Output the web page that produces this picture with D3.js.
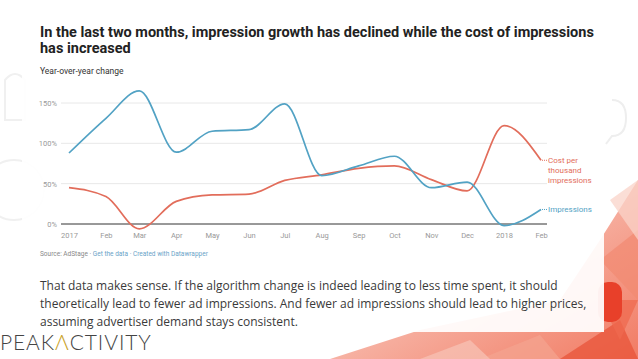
<!DOCTYPE html>
<html><head><meta charset="utf-8">
<script src="https://cdn.jsdelivr.net/npm/d3@7"></script>
<style>
html,body{margin:0;padding:0;background:#fff;}
svg{display:block;}
</style></head>
<body>
<svg id="c" width="638" height="359"></svg>
<script>
// ---- data ----
const months = ["2017-01","2017-02","2017-03","2017-04","2017-05","2017-06","2017-07","2017-08","2017-09","2017-10","2017-11","2017-12","2018-01","2018-02"];
const impressions = [88, 131, 165, 89, 115, 117, 149, 60, 72, 84, 45, 52, -2, 18];
const cpm = [45, 34, -6, 28, 36, 37, 54, 61, 69, 72, 55, 41, 122, 79];
const yTicks = [0, 50, 100, 150];
const xTickLabels = ["2017","Feb","Mar","Apr","May","Jun","Jul","Aug","Sep","Oct","Nov","Dec","2018","Feb"];
const titleLines = ["In the last two months, impression growth has declined while the cost of impressions","has increased"];
const paragraph = ["That data makes sense. If the algorithm change is indeed leading to less time spent, it should","theoretically lead to fewer ad impressions. And fewer ad impressions should lead to higher prices,","assuming advertiser demand stays consistent."];

const svg = d3.select("#c");
const parse = d3.timeParse("%Y-%m");
const dates = months.map(parse);

// ---- background decoration ----
const deco = svg.append("g");
const grad = svg.append("defs").append("linearGradient").attr("id","rg").attr("x1","0").attr("y1","0").attr("x2","1").attr("y2","1");
grad.append("stop").attr("offset","0").attr("stop-color","#fbe3dc");
grad.append("stop").attr("offset","1").attr("stop-color","#ee5a3c");
deco.append("path").attr("d","M638,180 L638,359 L330,359 L420,330 L560,300 L600,240 Z").attr("fill","url(#rg)").attr("opacity",0.8);
const tris = [
 "M600,260 L638,230 L638,300 Z","M560,359 L620,320 L638,359 Z","M480,359 L540,335 L560,359 Z",
 "M600,300 L638,300 L620,340 Z","M420,359 L470,340 L490,359 Z","M610,200 L638,180 L638,240 Z"];
const triCols = ["#f28b73","#e8543a","#f4a38f","#ef6a4f","#f7c2b4","#f9d3c8"];
tris.forEach((d,i)=>deco.append("path").attr("d",d).attr("fill",triCols[i]).attr("opacity",0.75));
deco.append("rect").attr("x",598).attr("y",282).attr("width",24).attr("height",40).attr("rx",10).attr("fill","#e8402a");
// faint doodles
deco.append("circle").attr("cx",14).attr("cy",190).attr("r",30).attr("fill","none").attr("stroke","#f0f0f0").attr("stroke-width",2);
deco.append("path").attr("d","M5,80 q10,-12 20,0 v40 h-20 z").attr("fill","none").attr("stroke","#f0f0f0").attr("stroke-width",2);
deco.append("path").attr("d","M612,100 q14,0 14,18 q0,18 -14,18 l-6,8").attr("fill","none").attr("stroke","#eee").attr("stroke-width",2);
// card
deco.append("rect").attr("x",22).attr("y",0).attr("width",582).attr("height",332).attr("fill","#fff").attr("opacity",0.93);

// ---- title ----
const T = svg.append("g").attr("font-family","Roboto, sans-serif");
T.selectAll("text.t").data(titleLines).join("text").attr("class","t")
 .attr("x",40).attr("y",(d,i)=>37+i*16).attr("font-size",14.5).attr("font-weight",700).attr("fill","#222").text(d=>d);
T.append("text").attr("x",40).attr("y",74).attr("font-size",8.5).attr("fill","#333").text("Year-over-year change");

// ---- scales ----
const x = d3.scaleTime().domain([dates[0], dates[dates.length-1]]).range([69, 541]);
const y = d3.scaleLinear().domain([0,150]).range([224,103]);

const chart = svg.append("g").attr("font-family","Roboto, sans-serif");
// grid
chart.selectAll("line.g").data(yTicks.filter(v=>v>0)).join("line").attr("class","g")
 .attr("x1",61).attr("x2",547).attr("y1",d=>y(d)).attr("y2",d=>y(d)).attr("stroke","#e8e8e8").attr("stroke-width",1);
chart.selectAll("text.yl").data(yTicks).join("text").attr("class","yl")
 .attr("x",57).attr("y",d=>y(d)+3).attr("text-anchor","end").attr("font-size",7.5).attr("fill","#999").text(d=>d+"%");
// x axis
const xAxis = d3.axisBottom(x).tickValues(dates).tickSize(0).tickPadding(9).tickFormat((d,i)=>xTickLabels[i]);
const xg = chart.append("g").attr("transform",`translate(0,${y(0)})`).call(xAxis);
xg.select(".domain").remove();
xg.selectAll("text").attr("font-size",7.5).attr("fill","#999").attr("font-family","Roboto, sans-serif");
chart.append("line").attr("x1",61).attr("x2",547).attr("y1",y(0)).attr("y2",y(0)).attr("stroke","#333").attr("stroke-width",1);

// lines
const line = d3.line().x((d,i)=>x(dates[i])).y(d=>y(d)).curve(d3.curveMonotoneX);
const blue = "#52a2c4", red = "#e26d5b";
chart.append("path").datum(cpm).attr("d",line).attr("fill","none").attr("stroke",red).attr("stroke-width",1.7);
chart.append("path").datum(impressions).attr("d",line).attr("fill","none").attr("stroke",blue).attr("stroke-width",1.7);

// labels
const lastX = x(dates[dates.length-1]);
const cpmY = y(cpm[cpm.length-1]), impY = y(impressions[impressions.length-1]);
chart.append("line").attr("x1",lastX+1).attr("x2",lastX+6).attr("y1",cpmY).attr("y2",cpmY).attr("stroke",red).attr("stroke-dasharray","1,1");
chart.append("line").attr("x1",lastX+1).attr("x2",lastX+6).attr("y1",impY).attr("y2",impY).attr("stroke",blue).attr("stroke-dasharray","1,1");
["Cost per","thousand","impressions"].forEach((t,i)=>{
  chart.append("text").attr("x",lastX+7).attr("y",cpmY+3+i*10).attr("font-size",8).attr("fill",red).text(t);
});
chart.append("text").attr("x",lastX+7).attr("y",impY+3).attr("font-size",8).attr("fill",blue).text("Impressions");

// source
const src = chart.append("text").attr("x",40).attr("y",256).attr("font-size",6.5).attr("fill","#888");
src.append("tspan").text("Source: AdStage · ");
src.append("tspan").attr("fill","#6aa3c8").text("Get the data · Created with Datawrapper");

// paragraph
svg.append("g").selectAll("text").data(paragraph).join("text")
 .attr("x",40).attr("y",(d,i)=>290+i*18).attr("font-family","'Open Sans', sans-serif").attr("font-size",12).attr("fill","#3a3a3a").text(d=>d);

// logo
const logo = svg.append("text").attr("x",0).attr("y",350).attr("font-family","Lato, 'Open Sans', sans-serif").attr("font-weight",300).attr("font-size",21).attr("fill","#444").attr("letter-spacing",0.9);
logo.append("tspan").text("PEAK");
logo.append("tspan").attr("fill","#c9a227").text("Λ");
logo.append("tspan").text("CTIVITY");
</script>
</body></html>
